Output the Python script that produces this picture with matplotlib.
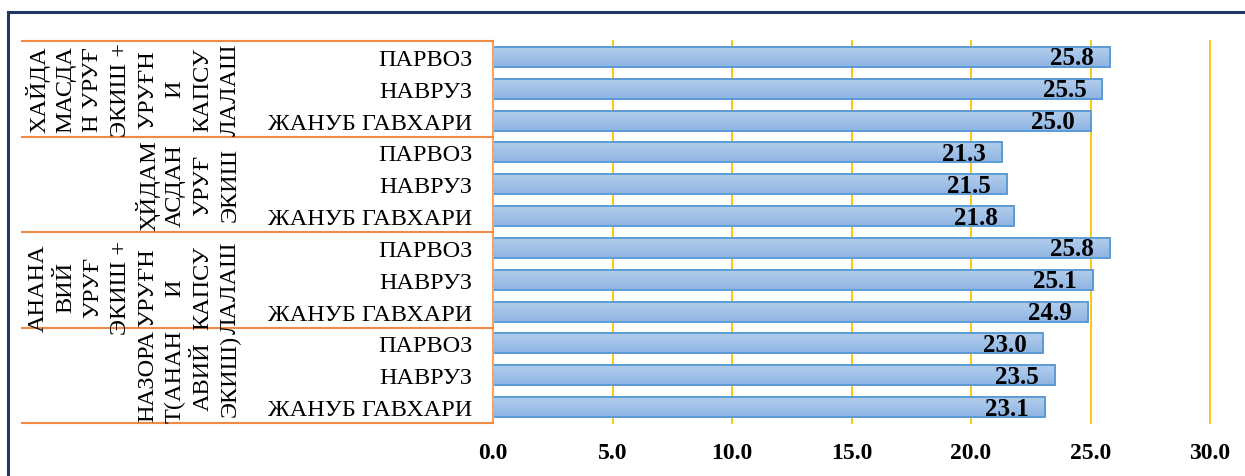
import matplotlib
matplotlib.use("Agg")
import matplotlib.pyplot as plt
import matplotlib.transforms as mtransforms
from matplotlib.patches import Rectangle
from matplotlib.lines import Line2D
from matplotlib.colors import LinearSegmentedColormap
import numpy as np

# ---- data ----
varieties = ["ПАРВОЗ", "НАВРУЗ", "ЖАНУБ ГАВХАРИ"]
groups = [
    ["ХАЙДА", "МАСДА", "Н УРУҒ", "ЭКИШ +", "УРУҒН", "И", "КАПСУ", "ЛАЛАШ"],
    ["ҲЙДАМ", "АСДАН", "УРУҒ", "ЭКИШ"],
    ["АНАНА", "ВИЙ", "УРУҒ", "ЭКИШ +", "УРУҒН", "И", "КАПСУ", "ЛАЛАШ"],
    ["НАЗОРА", "Т(АНАН", "АВИЙ", "ЭКИШ)"],
]
values = [
    [25.8, 25.5, 25.0],
    [21.3, 21.5, 21.8],
    [25.8, 25.1, 24.9],
    [23.0, 23.5, 23.1],
]
xticks = [0, 5, 10, 15, 20, 25, 30]

W, H = 1245, 477
fig = plt.figure(figsize=(W / 100, H / 100), dpi=100)
plt.rcParams['font.family'] = ['Liberation Serif', 'DejaVu Serif']

ax_left, ax_right, ax_top, ax_bot = 493, 1210, 42, 424
ax = fig.add_axes([ax_left / W, 1 - ax_bot / H, (ax_right - ax_left) / W, (ax_bot - ax_top) / H])

labels = [v for g in groups for v in varieties]
vals = [v for row in values for v in row]
ypos = np.arange(len(vals))

bars = ax.barh(ypos, vals, height=0.63, color='none', edgecolor='#5b9bd5', linewidth=1.4, zorder=3)
grad = np.linspace(0, 1, 64).reshape(-1, 1)
cmap = LinearSegmentedColormap.from_list('g', ['#b5cfec', '#8eb4e3'])
for b in bars:
    x0, y0 = b.get_x(), b.get_y()
    w, h = b.get_width(), b.get_height()
    im = ax.imshow(grad, cmap=cmap, aspect='auto', extent=(x0, x0 + w, y0 + h, y0),
                   zorder=2, interpolation='bicubic')
    im.set_clip_path(b)

for y, v in zip(ypos, vals):
    ax.annotate(f"{v:.1f}", xy=(v, y), xytext=(-16, -1), textcoords='offset pixels',
                ha='right', va='center', fontsize=18, fontweight='bold', zorder=5)

ax.set_xlim(0, 30)
ax.set_ylim(len(vals) - 0.5, -0.5)
ax.set_xticks(xticks)
ax.set_xticklabels([f"{t:.1f}" for t in xticks], fontsize=17, fontweight='bold')
ax.tick_params(axis='x', length=0, pad=14)
ax.set_yticks(ypos)
ax.set_yticklabels(labels, fontsize=17.5)
ax.tick_params(axis='y', length=0, pad=15)
for t in xticks[1:]:
    ax.axvline(t, color='#ffc000', linewidth=1.3, zorder=1, clip_on=False)
for s in ['top', 'right', 'bottom']:
    ax.spines[s].set_visible(False)
ax.spines['left'].set_color('#f4a46a')
ax.spines['left'].set_linewidth(1.5)
ax.spines['left'].set_zorder(4)

# group separator lines
blend = mtransforms.blended_transform_factory(fig.transFigure, ax.transData)
for yb in np.arange(-0.5, len(vals), 3):
    fig.add_artist(Line2D([22 / W, ax_left / W], [yb, yb], transform=blend,
                          color='#f08a44', linewidth=1.5, clip_on=False))

# group labels (rotated columns)
col_x = [38, 66, 93, 120, 148, 175, 203, 230]
group_center = [1, 4, 7.22, 10]
for gi, cols in enumerate(groups):
    xs = col_x[len(col_x) - len(cols):]
    for cx, txt in zip(xs, cols):
        fig.text(cx / W, group_center[gi], txt, transform=blend, rotation=90,
                 ha='center', va='center', fontsize=17.5)

# outer border
fig.add_artist(Rectangle((8 / W, -0.2), 1.2, 1.2 - 13 / H,
                         transform=fig.transFigure, fill=False, edgecolor='#203864',
                         linewidth=2.2, clip_on=False))

fig.savefig("out.png", dpi=100)
